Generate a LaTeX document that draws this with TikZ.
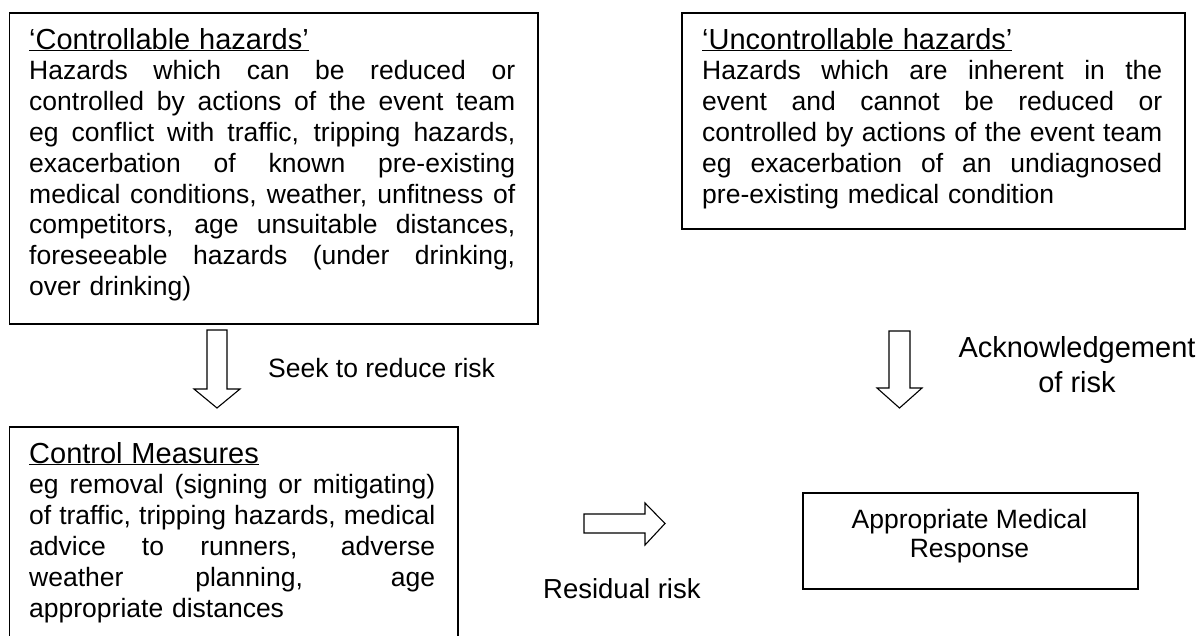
\documentclass[tikz,border=0pt]{standalone}
\usepackage{fontspec}
\setmainfont[Ligatures=CommonOff]{Liberation Sans}
\newcommand{\jl}[2]{\makebox[#1][s]{\spaceskip=0pt \xspaceskip=0pt #2}}
\newcommand{\boxtitle}[1]{{\fontsize{29}{30.8}\selectfont\underline{#1}}}
\begin{document}
\begin{tikzpicture}[x=1pt,y=-1pt,
  box/.style={draw,line width=1.6pt,inner sep=0pt,anchor=north west},
  txt/.style={inner sep=0pt,anchor=base west,align=left,font=\fontsize{26.5}{30.8}\selectfont},
  lbl/.style={inner sep=0pt,anchor=base west,font=\fontsize{26.5}{35}\selectfont},
  blockarrow/.style={draw,line width=1.1pt,line join=miter}]
\useasboundingbox (0,0) rectangle (1204,635);
\clip (0,0) rectangle (1204,635);
% boxes
\node[box,minimum width=528.5pt,minimum height=311pt] (c1) at (8.5,12) {};
\node[box,minimum width=503pt,minimum height=216pt] (c2) at (681,12) {};
\node[box,minimum width=448.5pt,minimum height=240pt] (c3) at (8.5,426) {};
\node[box,minimum width=335pt,minimum height=96pt] (c4) at (802,492) {};
% box texts
\node[txt,text width=486pt] (t1) at (29,49) {\boxtitle{‘Controllable hazards’}\\
\jl{486pt}{Hazards which can be reduced or}\\
\jl{486pt}{controlled by actions of the event team}\\
\jl{486pt}{eg conflict with traffic, tripping hazards,}\\
\jl{486pt}{exacerbation of known pre-existing}\\
\jl{486pt}{medical conditions, weather, unfitness of}\\
\jl{486pt}{competitors, age unsuitable distances,}\\
\jl{486pt}{foreseeable hazards (under drinking,}\\
over drinking)};
\node[txt,text width=460pt] (t2) at (702,49) {\boxtitle{‘Uncontrollable hazards’}\\
\jl{460pt}{Hazards which are inherent in the}\\
\jl{460pt}{event and cannot be reduced or}\\
\jl{460pt}{controlled by actions of the event team}\\
\jl{460pt}{eg exacerbation of an undiagnosed}\\
pre-existing medical condition};
\node[txt,text width=406pt] (t3) at (29,463) {\boxtitle{Control Measures}\\
\jl{406pt}{eg removal (signing or mitigating)}\\
\jl{406pt}{of traffic, tripping hazards, medical}\\
\jl{406pt}{advice to runners, adverse}\\
\jl{406pt}{weather planning, age}\\
appropriate distances};
\node[inner sep=0pt,anchor=base,align=center,font=\fontsize{26.5}{29}\selectfont] (t4) at (969.5,557) {Appropriate Medical\\Response};
% arrows
\draw[blockarrow] (207,330) -- (227,330) -- (227,389) -- (240,389) -- (217,408) -- (194,389) -- (207,389) -- cycle;
\draw[blockarrow] (889,331) -- (910,331) -- (910,388) -- (922,388) -- (899.5,408) -- (877,388) -- (889,388) -- cycle;
\draw[blockarrow] (584,514) -- (645,514) -- (645,503) -- (665,523.5) -- (645,545) -- (645,533) -- (584,533) -- cycle;
% labels
\node[lbl] (l1) at (268,377) {Seek to reduce risk};
\node[lbl,anchor=base,align=center,font=\fontsize{29}{35}\selectfont] (l2) at (1077,392) {Acknowledgement\\of risk};
\node[lbl,font=\fontsize{27.5}{35}\selectfont] (l3) at (543,598) {Residual risk};
\end{tikzpicture}
\end{document}
